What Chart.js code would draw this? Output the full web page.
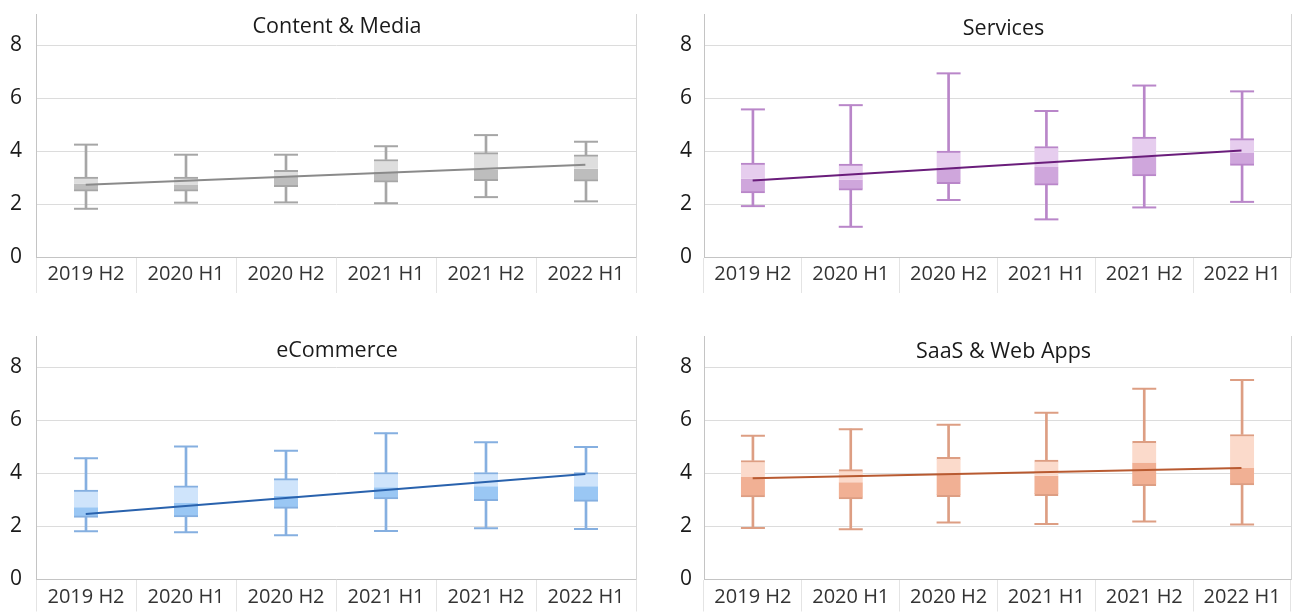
<!DOCTYPE html>
<html lang="en">
<head>
<meta charset="UTF-8" />
<title>Box plots by segment</title>
<script src="https://cdn.jsdelivr.net/npm/chart.js"></script>
<style>
    html, body {
        margin: 0;
        padding: 0;
        background: #fff;
    }
    body {
        width: 1305px;
        height: 612px;
        position: relative;
        overflow: hidden;
        font-family: 'Open Sans', 'Noto Sans', sans-serif;
    }
    .panel {
        position: absolute;
    }
    #p1 { left: 0;     top: 0;     width: 650px; height: 300px; }
    #p2 { left: 650px; top: 0;     width: 655px; height: 300px; }
    #p3 { left: 0;     top: 322px; width: 650px; height: 290px; }
    #p4 { left: 650px; top: 322px; width: 655px; height: 290px; }
    .ptitle {
        position: absolute;
        height: 28px;
        line-height: 28px;
        font-size: 21.5px;
        color: #1a1a1a;
        text-align: center;
        pointer-events: none;
    }
    #p1 .ptitle { left: 36px; width: 602px; top: 11px; }
    #p2 .ptitle { left: 54px; width: 599px; top: 13px; }
    #p3 .ptitle { left: 36px; width: 602px; top: 13px; }
    #p4 .ptitle { left: 54px; width: 599px; top: 14px; }
</style>
</head>
<body>

<div class="panel" id="p1"><canvas id="c1"></canvas><div class="ptitle">Content &amp; Media</div></div>
<div class="panel" id="p2"><canvas id="c2"></canvas><div class="ptitle">Services</div></div>
<div class="panel" id="p3"><canvas id="c3"></canvas><div class="ptitle">eCommerce</div></div>
<div class="panel" id="p4"><canvas id="c4"></canvas><div class="ptitle">SaaS &amp; Web Apps</div></div>

<script>
    const categories = ['2019 H2', '2020 H1', '2020 H2', '2021 H1', '2021 H2', '2022 H1'];
    const yTicks = [0, 2, 4, 6, 8];
    const trendX = [-0.36, 5.35];

    // Content & Media
    const contentMin = [1.82, 2.05, 2.06, 2.03, 2.26, 2.10];
    const contentQ1  = [2.48, 2.48, 2.65, 2.82, 2.88, 2.86];
    const contentMed = [2.77, 2.72, 3.05, 3.21, 3.30, 3.33];
    const contentQ3  = [3.02, 3.02, 3.27, 3.68, 3.94, 3.86];
    const contentMax = [4.24, 3.86, 3.86, 4.18, 4.60, 4.35];
    const contentTrend = [2.73, 3.48];

    // Services
    const servicesMin = [1.92, 1.14, 2.15, 1.42, 1.87, 2.08];
    const servicesQ1  = [2.42, 2.52, 2.77, 2.71, 3.06, 3.46];
    const servicesMed = [2.96, 2.92, 3.37, 3.40, 3.77, 3.92];
    const servicesQ3  = [3.54, 3.51, 4.00, 4.17, 4.53, 4.47];
    const servicesMax = [5.57, 5.73, 6.93, 5.51, 6.47, 6.25];
    const servicesTrend = [2.89, 4.02];

    // eCommerce
    const ecomMin = [1.82, 1.78, 1.67, 1.83, 1.93, 1.90];
    const ecomQ1  = [2.34, 2.36, 2.68, 3.03, 2.97, 2.94];
    const ecomMed = [2.72, 2.88, 3.16, 3.47, 3.51, 3.51];
    const ecomQ3  = [3.37, 3.53, 3.80, 4.03, 4.03, 4.03];
    const ecomMax = [4.57, 5.01, 4.85, 5.51, 5.17, 4.99];
    const ecomTrend = [2.47, 3.97];

    // SaaS & Web Apps
    const saasMin = [1.94, 1.89, 2.15, 2.09, 2.18, 2.07];
    const saasQ1  = [3.11, 3.03, 3.12, 3.16, 3.53, 3.56];
    const saasMed = [3.86, 3.66, 4.00, 3.91, 4.41, 4.20];
    const saasQ3  = [4.48, 4.14, 4.60, 4.50, 5.20, 5.46];
    const saasMax = [5.41, 5.66, 5.83, 6.28, 7.18, 7.51];
    const saasTrend = [3.81, 4.20];

    const FONT = "'Open Sans', 'Noto Sans', sans-serif";

    function pairs(a, b) {
        return a.map((v, i) => [v, b[i]]);
    }

    function makePanel(id, s, col, L) {
        const ctx = document.getElementById(id).getContext('2d');
        return new Chart(ctx, {
            type: 'bar',
            data: {
                labels: categories,
                datasets: [
                    {   // trend line
                        type: 'line',
                        xAxisID: 'xt',
                        data: trendX.map((x, i) => ({ x: x, y: s.trend[i] })),
                        borderColor: col.trend,
                        borderWidth: 2,
                        pointRadius: 0,
                        order: 0
                    },
                    {   // upper half of box
                        data: pairs(s.med, s.q3),
                        backgroundColor: col.light,
                        borderColor: col.line,
                        borderWidth: { top: 2, bottom: 0, left: 0, right: 0 },
                        borderSkipped: false,
                        barThickness: 24,
                        grouped: false,
                        order: 1
                    },
                    {   // lower half of box
                        data: pairs(s.q1, s.med),
                        backgroundColor: col.dark,
                        borderColor: col.line,
                        borderWidth: { top: 0, bottom: 2, left: 0, right: 0 },
                        borderSkipped: false,
                        barThickness: 24,
                        grouped: false,
                        order: 1
                    },
                    {   // whiskers
                        data: pairs(s.q3, s.max),
                        backgroundColor: col.line,
                        barThickness: 2,
                        grouped: false,
                        order: 2
                    },
                    {
                        data: pairs(s.min, s.q1),
                        backgroundColor: col.line,
                        barThickness: 2,
                        grouped: false,
                        order: 2
                    },
                    {   // caps
                        type: 'line',
                        data: s.max,
                        showLine: false,
                        pointStyle: 'line',
                        pointRadius: 12,
                        pointBorderWidth: 2,
                        borderColor: col.line,
                        order: 2
                    },
                    {
                        type: 'line',
                        data: s.min,
                        showLine: false,
                        pointStyle: 'line',
                        pointRadius: 12,
                        pointBorderWidth: 2,
                        borderColor: col.line,
                        order: 2
                    }
                ]
            },
            options: {
                responsive: true,
                maintainAspectRatio: false,
                animation: false,
                layout: { padding: { left: 0, right: L.right, top: L.top, bottom: 0 } },
                plugins: {
                    legend: { display: false },
                    tooltip: { enabled: false }
                },
                scales: {
                    x: {
                        offset: true,
                        grid: {
                            offset: true,
                            drawOnChartArea: false,
                            color: '#e4e4e4',
                            tickLength: L.tickLen
                        },
                        border: { color: '#c4c4c4' },
                        ticks: {
                            color: '#333',
                            padding: L.labelPad,
                            maxRotation: 0,
                            font: { family: FONT, size: 20 }
                        },
                        afterFit: a => { a.height = L.xHeight; }
                    },
                    xt: {
                        type: 'linear',
                        display: false,
                        min: -0.5,
                        max: 5.5
                    },
                    y: {
                        min: 0,
                        max: 9.17,
                        afterBuildTicks: a => { a.ticks = yTicks.map(v => ({ value: v })); },
                        // gap between labels and axis comes from an invisible tick mark
                        grid: {
                            color: '#dcdcdc',
                            drawTicks: true,
                            tickLength: L.yPad,
                            tickColor: 'rgba(0,0,0,0)'
                        },
                        border: { color: '#c4c4c4' },
                        ticks: {
                            color: '#1a1a1a',
                            padding: 0,
                            font: { family: FONT, size: 21, lineHeight: 0.6 }
                        },
                        afterFit: a => {
                            a.width = L.yWidth;
                            a.paddingTop = 0;
                            a.paddingBottom = 0;
                        }
                    },
                    y2: {
                        position: 'right',
                        display: true,
                        grid: { display: false },
                        ticks: { display: false },
                        border: { color: '#d6d6d6' },
                        afterFit: a => { a.width = 0; }
                    }
                }
            }
        });
    }

    const gray   = { line: '#a6a6a6', light: '#dedede', dark: '#bdbdbd', trend: '#8a8a8a' };
    const purple = { line: '#b986c9', light: '#e6cdee', dark: '#cfa6dc', trend: '#6a1d7b' };
    const blue   = { line: '#85afe0', light: '#cfe4fb', dark: '#9ac7f4', trend: '#2962ad' };
    const orange = { line: '#dd9e83', light: '#fbdacb', dark: '#f1b094', trend: '#b85a31' };

    const topLeft  = { top: 8,  right: 12, yWidth: 36, yPad: 14, xHeight: 43,   tickLen: 36, labelPad: -31 };
    const topRight = { top: 8,  right: 2,  yWidth: 54, yPad: 12, xHeight: 43,   tickLen: 36, labelPad: -31 };
    const botLeft  = { top: 10, right: 12, yWidth: 36, yPad: 14, xHeight: 32.5, tickLen: 32, labelPad: -26 };
    const botRight = { top: 10, right: 2,  yWidth: 54, yPad: 12, xHeight: 32.5, tickLen: 32, labelPad: -26 };

    makePanel('c1',
        { min: contentMin, q1: contentQ1, med: contentMed, q3: contentQ3, max: contentMax, trend: contentTrend },
        gray, topLeft);
    makePanel('c2',
        { min: servicesMin, q1: servicesQ1, med: servicesMed, q3: servicesQ3, max: servicesMax, trend: servicesTrend },
        purple, topRight);
    makePanel('c3',
        { min: ecomMin, q1: ecomQ1, med: ecomMed, q3: ecomQ3, max: ecomMax, trend: ecomTrend },
        blue, botLeft);
    makePanel('c4',
        { min: saasMin, q1: saasQ1, med: saasMed, q3: saasQ3, max: saasMax, trend: saasTrend },
        orange, botRight);
</script>

</body>
</html>
